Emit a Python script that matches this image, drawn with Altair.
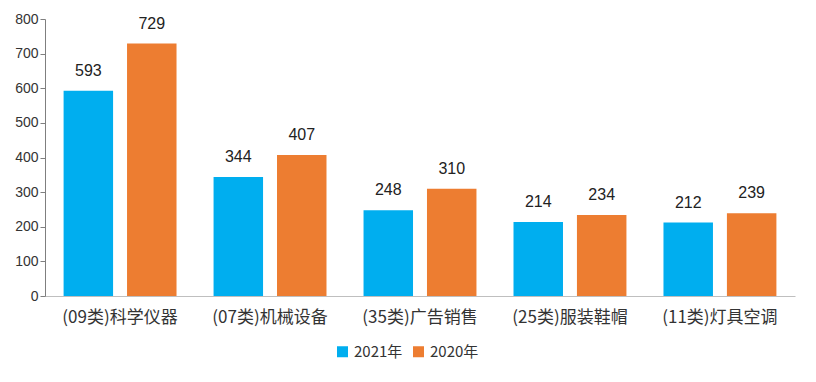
import altair as alt
import pandas as pd

categories = ["(09类)科学仪器", "(07类)机械设备", "(35类)广告销售", "(25类)服装鞋帽", "(11类)灯具空调"]
v2021 = [593, 344, 248, 214, 212]
v2020 = [729, 407, 310, 234, 239]
series = ["2021年", "2020年"]
colors = ["#00AEEF", "#ED7D31"]

rows = []
for c, a, b in zip(categories, v2021, v2020):
    rows.append({"cat": c, "year": series[0], "value": a})
    rows.append({"cat": c, "year": series[1], "value": b})
df = pd.DataFrame(rows)

font = "Noto Sans CJK SC"

x = alt.X("cat:N", sort=categories, title=None,
          scale=alt.Scale(paddingInner=0.247, paddingOuter=0.124),
          axis=alt.Axis(labelAngle=0, labelFontSize=17, labelColor="#333333", labelFont=font,
                        ticks=False, domainColor="#BFBFBF", labelPadding=13))
xo = alt.XOffset("year:N", sort=series, scale=alt.Scale(paddingInner=0.22))
y = alt.Y("value:Q", title=None,
          scale=alt.Scale(domain=[0, 800]),
          axis=alt.Axis(values=list(range(0, 801, 100)), grid=False, labelFontSize=14,
                        labelColor="#333333", domainColor="#7F7F7F", tickColor="#7F7F7F",
                        labelFont="Liberation Sans"))

bars = alt.Chart(df).mark_bar().encode(
    x=x, xOffset=xo, y=y,
    color=alt.Color("year:N", sort=series, scale=alt.Scale(domain=series, range=colors),
                    legend=alt.Legend(title=None, orient="none", direction="horizontal",
                                      legendX=290, legendY=325,
                                      symbolType="square", symbolSize=121, labelFontSize=15,
                                      labelFont=font, labelColor="#333333",
                                      symbolStrokeWidth=0, columnPadding=8)),
)
labels = alt.Chart(df).mark_text(baseline="bottom", dy=-12, fontSize=16, color="#222222",
                                 font="Liberation Sans").encode(
    x=x, xOffset=xo, y=y, text="value:Q")

chart = (bars + labels).properties(
    width=750, height=277,
    autosize=alt.AutoSizeParams(type="none"),
    padding={"left": 37, "top": 11, "right": 13, "bottom": 78},
    background="white",
).configure_view(stroke=None)

chart.save("out.html", embed_options={"renderer": "svg", "actions": False})
